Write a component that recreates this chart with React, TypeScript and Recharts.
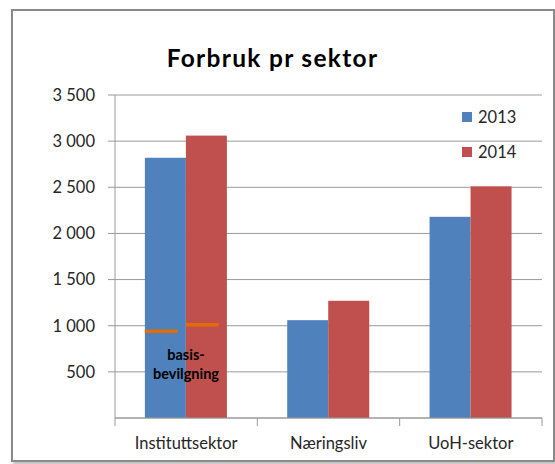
import { BarChart, Bar, XAxis, YAxis, CartesianGrid } from 'recharts';

const sektorer = ['Instituttsektor', 'Næringsliv', 'UoH-sektor'];
const forbruk2013 = [2820, 1060, 2180];
const forbruk2014 = [3060, 1270, 2510];
// basisbevilgning (oransje strek) - bare instituttsektoren
const basis2013 = [940, null, null];
const basis2014 = [1010, null, null];
const yTicks = [500, 1000, 1500, 2000, 2500, 3000, 3500];
const serier = [
  { key: 'v2013', navn: '2013', farge: '#4F81BD', basis: 'b2013' },
  { key: 'v2014', navn: '2014', farge: '#C0504D', basis: 'b2014' },
];

const data = sektorer.map((navn, i) => ({
  navn,
  v2013: forbruk2013[i],
  v2014: forbruk2014[i],
  b2013: basis2013[i],
  b2014: basis2014[i],
}));

const FONT = 'Lato, "Open Sans", sans-serif';

const formatTall = (v: number) =>
  String(v).replace(/\B(?=(\d{3})+(?!\d))/g, ' ');

// Stolpe med eventuell strek for basisbevilgning
const lagStolpe = (basisKey: string) => (props: any) => {
  const { x, y, width, height, fill, payload, value } = props;
  const basis = payload ? payload[basisKey] : null;
  let strek = null;
  if (basis != null && value) {
    const by = y + height - (basis * height) / value;
    strek = (
      <line x1={x} x2={x + width * 0.8} y1={by} y2={by} stroke="#E36C09" strokeWidth={3.5} />
    );
  }
  return (
    <g>
      <rect x={x} y={y} width={width} height={height} fill={fill} />
      {strek}
    </g>
  );
};

const KategoriTick = (props: any) => {
  const { x, y, payload, index } = props;
  const half = payload && payload.offset ? payload.offset : 71.2;
  const y0 = y;
  return (
    <g>
      {index === 0 && (
        <line x1={x - half} x2={x - half} y1={y0} y2={y0 + 8} stroke="#9a9a9a" />
      )}
      <line x1={x + half} x2={x + half} y1={y0} y2={y0 + 8} stroke="#9a9a9a" />
      <text x={x} y={y0 + 31} textAnchor="middle" fontSize={16.5} fill="#262626" fontFamily={FONT}>
        {payload.value}
      </text>
    </g>
  );
};

export default function App() {
  return (
    <div style={{ position: 'absolute', left: 0, top: 0, width: 555, height: 464, background: '#fff' }}>
      <div
        style={{
          position: 'absolute',
          left: 11,
          top: 9,
          width: 540,
          height: 449,
          border: '2px solid #8a8a8a',
          boxShadow: '2px 3px 3px rgba(0,0,0,0.25)',
        }}
      />
      <div
        style={{
          position: 'absolute',
          left: 0,
          width: 545,
          top: 43,
          textAlign: 'center',
          fontFamily: FONT,
          fontWeight: 'bold',
          fontSize: 24.5,
          letterSpacing: 1.3,
          color: '#000',
        }}
      >
        Forbruk pr sektor
      </div>
      <div style={{ position: 'absolute', left: 0, top: 0 }}>
        <BarChart
          width={555}
          height={464}
          data={data}
          margin={{ top: 95, right: 13, bottom: 0, left: 0 }}
          barCategoryGap="21%"
          barGap={0}
        >
          <CartesianGrid vertical={false} stroke="#9a9a9a" />
          <XAxis
            dataKey="navn"
            height={46}
            axisLine={{ stroke: '#9a9a9a' }}
            tickLine={false}
            tickSize={0}
            tickMargin={0}
            tick={<KategoriTick />}
            interval={0}
          />
          <YAxis
            width={115}
            domain={[0, 3500]}
            ticks={yTicks}
            tickFormatter={formatTall}
            axisLine={{ stroke: '#9a9a9a' }}
            tickLine={{ stroke: '#9a9a9a' }}
            tickSize={7}
            tickMargin={13}
            tick={{ fontSize: 16.5, fill: '#262626', fontFamily: FONT }}
          />
          {serier.map((s) => (
            <Bar
              key={s.key}
              dataKey={s.key}
              name={s.navn}
              fill={s.farge}
              isAnimationActive={false}
              shape={lagStolpe(s.basis)}
            />
          ))}
        </BarChart>
      </div>
      <div
        style={{
          position: 'absolute',
          left: 462,
          top: 99,
          fontFamily: FONT,
          fontSize: 16.5,
          color: '#262626',
        }}
      >
        {serier.map((s) => (
          <div key={s.key} style={{ display: 'flex', alignItems: 'center', height: 35 }}>
            <span
              style={{ width: 10, height: 10, background: s.farge, marginRight: 6, display: 'inline-block' }}
            />
            {s.navn}
          </div>
        ))}
      </div>
      <div
        style={{
          position: 'absolute',
          left: 136,
          width: 100,
          top: 345,
          textAlign: 'center',
          fontFamily: FONT,
          fontWeight: 'bold',
          fontSize: 14.5,
          lineHeight: '19px',
          color: '#000',
        }}
      >
        basis-
        <br />
        bevilgning
      </div>
    </div>
  );
}
